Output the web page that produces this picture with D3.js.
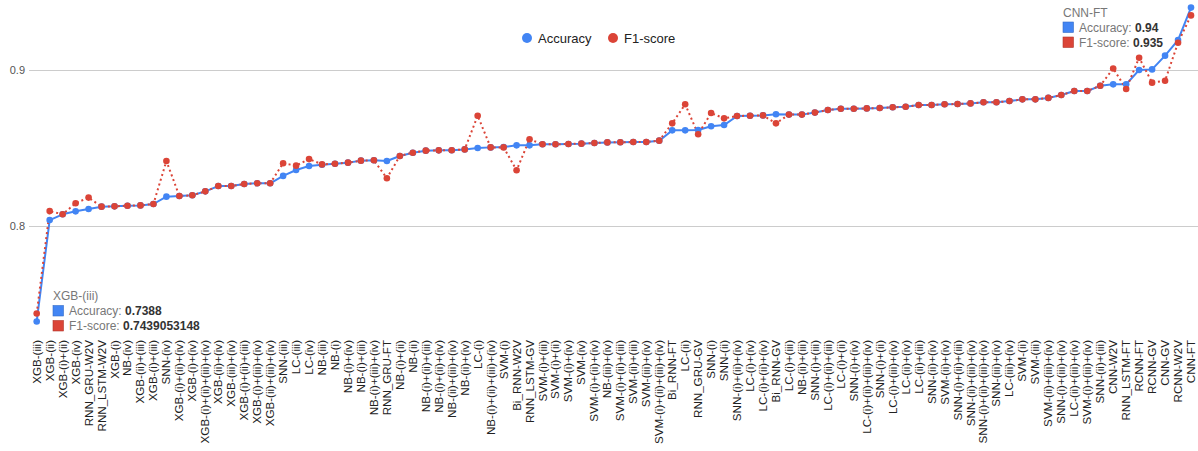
<!DOCTYPE html>
<html>
<head>
<meta charset="utf-8">
<script src="https://cdn.jsdelivr.net/npm/d3@7"></script>
<style>
  html, body { margin: 0; padding: 0; background: #fff; }
  svg { display: block; font-family: "Liberation Sans", Arial, sans-serif; }
</style>
</head>
<body>
<svg id="chart" width="1198" height="451"></svg>
<script>
const categories = [
  "XGB-(iii)","XGB-(ii)","XGB-(i)+(ii)","XGB-(iv)","RNN_GRU-W2V","RNN_LSTM-W2V","XGB-(i)","NB-(iv)",
  "XGB-(ii)+(iii)","XGB-(i)+(iii)","SNN-(iv)","XGB-(i)+(ii)+(iv)","XGB-(i)+(iv)","XGB-(i)+(ii)+(iii)+(iv)",
  "XGB-(ii)+(iv)","XGB-(iii)+(iv)","XGB-(i)+(ii)+(iii)","XGB-(i)+(iii)+(iv)","XGB-(ii)+(iii)+(iv)","SNN-(iii)",
  "LC-(iii)","LC-(iv)","NB-(iii)","NB-(i)","NB-(i)+(iv)","NB-(i)+(iii)","NB-(i)+(iii)+(iv)","RNN_GRU-FT",
  "NB-(i)+(ii)","NB-(ii)","NB-(i)+(ii)+(iii)","NB-(i)+(ii)+(iv)","NB-(ii)+(iii)+(iv)","NB-(ii)+(iv)","LC-(i)",
  "NB-(i)+(ii)+(iii)+(iv)","SVM-(i)","Bi_RNN-W2V","RNN_LSTM-GV","SVM-(i)+(iii)","SVM-(i)+(ii)","SVM-(i)+(iv)",
  "SVM-(iv)","SVM-(i)+(ii)+(iv)","NB-(iii)+(iv)","SVM-(i)+(ii)+(iii)","SVM-(ii)+(iii)","SVM-(iii)+(iv)",
  "SVM-(i)+(ii)+(iii)+(iv)","Bi_RNN-FT","LC-(ii)","RNN_GRU-GV","SNN-(i)","SNN-(ii)","SNN-(i)+(ii)+(iv)",
  "LC-(i)+(iv)","LC-(i)+(ii)+(iv)","Bi_RNN-GV","LC-(i)+(iii)","NB-(ii)+(iii)","SNN-(i)+(iii)","LC-(i)+(ii)+(iii)",
  "LC-(i)+(ii)","SNN-(i)+(iv)","LC-(i)+(ii)+(iii)+(iv)","SNN-(i)+(ii)","LC-(i)+(iii)+(iv)","LC-(ii)+(iv)",
  "LC-(ii)+(iii)","SNN-(ii)+(iv)","SVM-(ii)+(iv)","SNN-(i)+(ii)+(iii)","SNN-(ii)+(iii)+(iv)",
  "SNN-(i)+(ii)+(iii)+(iv)","SNN-(iii)+(iv)","LC-(iii)+(iv)","SVM-(ii)","SVM-(iii)","SVM-(ii)+(iii)+(iv)",
  "SNN-(i)+(iii)+(iv)","LC-(ii)+(iii)+(iv)","SVM-(i)+(iii)+(iv)","SNN-(ii)+(iii)","CNN-W2V","RNN_LSTM-FT",
  "RCNN-FT","RCNN-GV","CNN-GV","RCNN-W2V","CNN-FT"
];

const accuracy = [
  0.7388,0.8038,0.8075,0.8094,0.8109,0.8124,0.8126,0.8130,0.8132,0.8141,
  0.8188,0.8192,0.8197,0.8222,0.8256,0.8256,0.8269,0.8274,0.8274,0.8321,
  0.8359,0.8385,0.8393,0.8399,0.8406,0.8419,0.8421,0.8417,0.8449,0.8470,
  0.8483,0.8485,0.8486,0.8491,0.8500,0.8504,0.8506,0.8517,0.8517,0.8524,
  0.8524,0.8526,0.8528,0.8532,0.8536,0.8537,0.8538,0.8538,0.8547,0.8613,
  0.8613,0.8615,0.8639,0.8647,0.8705,0.8707,0.8709,0.8716,0.8714,0.8714,
  0.8727,0.8744,0.8752,0.8752,0.8754,0.8756,0.8761,0.8764,0.8776,0.8776,
  0.8780,0.8782,0.8786,0.8793,0.8793,0.8801,0.8812,0.8812,0.8821,0.8840,
  0.8865,0.8865,0.8899,0.8908,0.8908,0.9000,0.9004,0.9092,0.9192,0.94
];

const f1score = [
  0.7439053148,0.8096,0.8075,0.8146,0.8182,0.8124,0.8126,0.8130,0.8132,0.8141,
  0.8417,0.8192,0.8197,0.8222,0.8256,0.8256,0.8269,0.8274,0.8274,0.8402,
  0.8387,0.8429,0.8395,0.8399,0.8406,0.8419,0.8421,0.8306,0.8449,0.8470,
  0.8483,0.8485,0.8486,0.8491,0.8707,0.8504,0.8504,0.8357,0.8556,0.8524,
  0.8524,0.8526,0.8528,0.8532,0.8536,0.8537,0.8538,0.8538,0.8547,0.8658,
  0.8780,0.8588,0.8724,0.8690,0.8705,0.8707,0.8709,0.8658,0.8714,0.8714,
  0.8727,0.8744,0.8752,0.8752,0.8754,0.8756,0.8761,0.8764,0.8776,0.8776,
  0.8780,0.8782,0.8786,0.8793,0.8793,0.8801,0.8812,0.8812,0.8821,0.8840,
  0.8865,0.8865,0.8899,0.9010,0.8878,0.9079,0.8919,0.8931,0.9175,0.935
];

const yTicks = [0.8, 0.9];
const seriesNames = ["Accuracy", "F1-score"];
const colors = ["#4285f4", "#db4437"];

const svg = d3.select("#chart");
const W = 1198;

const x = d3.scalePoint().domain(categories).range([36.7, 1191]);
const y = d3.scaleLinear().domain([0.8, 0.9]).range([226, 70]);

// gridlines + y labels
const yAxis = svg.append("g").attr("transform", "translate(29,0)")
  .call(d3.axisLeft(y).tickValues(yTicks).tickSize(-(W - 29)).tickPadding(4).tickFormat(d3.format(".1f")));
yAxis.select(".domain").remove();
yAxis.selectAll(".tick line").attr("stroke", "#cccccc").attr("stroke-width", 1);
yAxis.selectAll(".tick text").attr("fill", "#555").attr("font-size", 11)
  .attr("font-family", "Liberation Sans, Arial, sans-serif");

// x labels
const xAxis = svg.append("g").attr("transform", "translate(0,340)")
  .call(d3.axisBottom(x).tickSize(0).tickPadding(0));
xAxis.select(".domain").remove();
xAxis.selectAll(".tick text")
  .attr("transform", "rotate(-90)")
  .attr("x", 0).attr("y", 0).attr("dy", "0.3em")
  .attr("text-anchor", "end")
  .attr("fill", "#222").attr("font-size", 11.6)
  .attr("font-family", "Liberation Sans, Arial, sans-serif");

const idx = d3.range(categories.length);
const lineAcc = d3.line().x(i => x(categories[i])).y(i => y(accuracy[i]));
const lineF1 = d3.line().x(i => x(categories[i])).y(i => y(f1score[i]));

svg.append("path").datum(idx).attr("d", lineAcc)
  .attr("fill", "none").attr("stroke", colors[0]).attr("stroke-width", 2).attr("stroke-linejoin", "round");
svg.append("path").datum(idx).attr("d", lineF1)
  .attr("fill", "none").attr("stroke", colors[1]).attr("stroke-width", 2)
  .attr("stroke-dasharray", "2,3");

svg.append("g").selectAll("circle").data(idx).join("circle")
  .attr("cx", i => x(categories[i])).attr("cy", i => y(accuracy[i]))
  .attr("r", 3.3).attr("fill", colors[0]);
svg.append("g").selectAll("circle").data(idx).join("circle")
  .attr("cx", i => x(categories[i])).attr("cy", i => y(f1score[i]))
  .attr("r", 3.3).attr("fill", colors[1]);

// legend
const legend = [
  { name: seriesNames[0], color: colors[0], cx: 527, tx: 538 },
  { name: seriesNames[1], color: colors[1], cx: 613, tx: 624 }
];
legend.forEach(l => {
  svg.append("circle").attr("cx", l.cx).attr("cy", 38).attr("r", 5).attr("fill", l.color);
  svg.append("text").attr("x", l.tx).attr("y", 42.5).attr("font-size", 13).attr("fill", "#222").text(l.name);
});

// tooltips
function tooltip(i, x0, yTitle, accText, f1Text) {
  const g = svg.append("g");
  g.append("text").attr("x", x0).attr("y", yTitle).attr("font-size", 12).attr("fill", "#777")
    .text(categories[i]);
  const rows = [
    { label: seriesNames[0] + ": ", val: accText, color: colors[0] },
    { label: seriesNames[1] + ": ", val: f1Text, color: colors[1] }
  ];
  rows.forEach((r, k) => {
    const yy = yTitle + 15 + k * 15;
    g.append("rect").attr("x", x0).attr("y", yy - 9.5).attr("width", 10.5).attr("height", 10.5)
      .attr("fill", r.color).attr("stroke", d3.color(r.color).darker(0.6)).attr("stroke-width", 0.6);
    const t = g.append("text").attr("x", x0 + 16).attr("y", yy).attr("font-size", 12).attr("fill", "#777");
    t.append("tspan").text(r.label);
    t.append("tspan").attr("font-weight", "bold").attr("fill", "#333").text(r.val);
  });
}
tooltip(categories.length - 1, 1063, 16.5, "0.94", "0.935");
tooltip(0, 53, 300, "0.7388", "0.7439053148");
</script>
</body>
</html>
